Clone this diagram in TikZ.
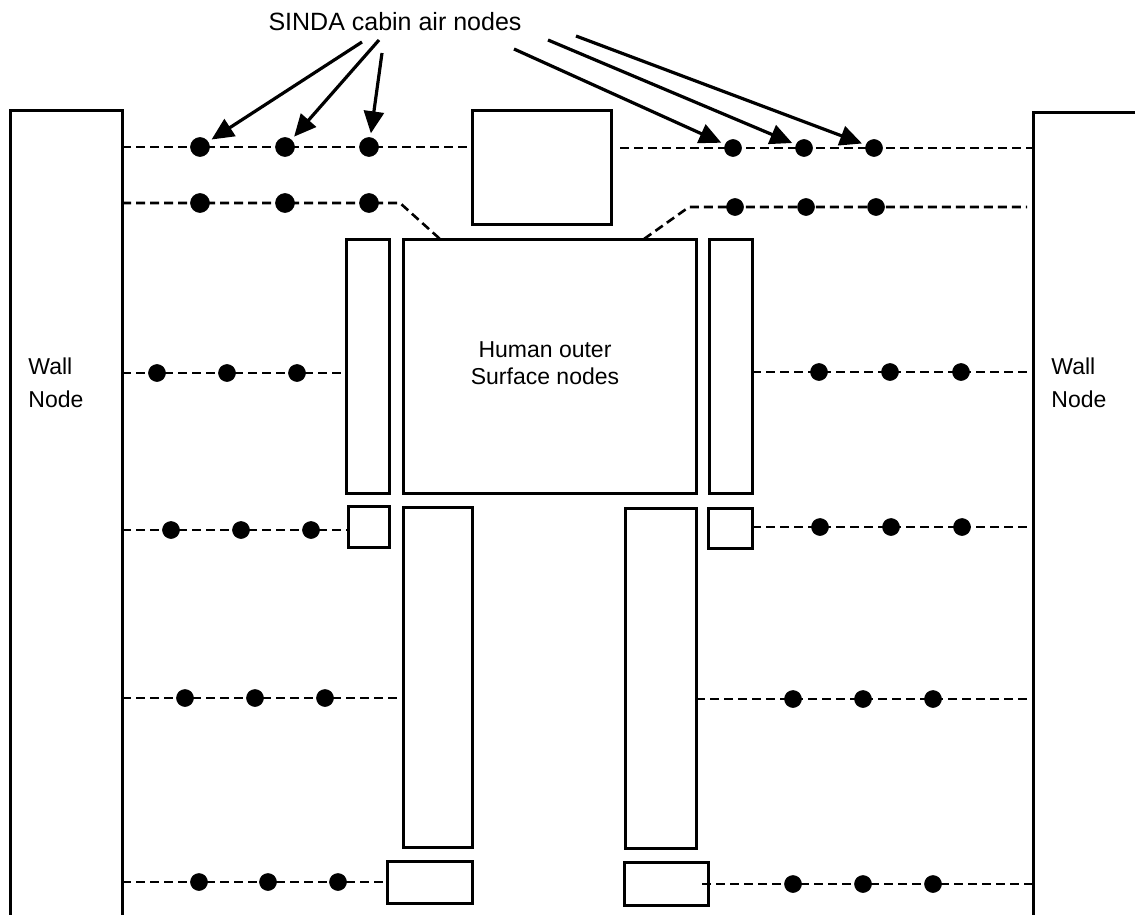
\documentclass[tikz,border=0pt]{standalone}
\usepackage{fontspec}
\setmainfont{Liberation Sans}
\usetikzlibrary{arrows.meta,fit,calc}

\begin{document}
\begin{tikzpicture}[
  x=0.5pt,y=-0.5pt,
  font=\fontsize{11.5}{13.5}\selectfont,
  >={Triangle[length=11pt,width=10pt]},
  partbox/.style ={draw,line width=1.5pt,inner sep=0pt,outer sep=0pt},
  airnode/.style ={circle,fill=black,draw=black,line width=0.3pt,inner sep=0pt,minimum size=8.5pt},
  bigair/.style  ={airnode,minimum size=9.5pt},
  airline/.style ={line width=1.3pt,dash pattern=on 4.5pt off 2.5pt},
  pointer/.style ={->,line width=1.6pt,shorten >=2pt},
  walltext/.style={align=left,inner sep=0pt,font=\fontsize{11.5}{16.5}\selectfont},
]
\useasboundingbox (0,0) rectangle (1135,915);

% =====================================================================
% WALLS (open towards the bottom / right edge of the page)
% =====================================================================
\node[partbox,fit={(10,111)(122,940)}]   (lwall) {};
\node[partbox,fit={(1033,113)(1160,940)}] (rwall) {};
\node[walltext,anchor=west] (lwalltxt) at (28,383)   {Wall\\Node};
\node[walltext,anchor=west] (rwalltxt) at (1051,383) {Wall\\Node};

% =====================================================================
% HUMAN BODY (outer surface nodes)
% =====================================================================
\node[partbox,fit={(472,111)(611,224)}] (head)  {};
\node[partbox,fit={(403,239)(696,493)}] (torso) {};
\node[partbox,fit={(346,239)(389,493)}] (larm)  {};
\node[partbox,fit={(709,239)(752,493)}] (rarm)  {};
\node[partbox,fit={(348,506)(389,547)}] (lhand) {};
\node[partbox,fit={(708,508)(752,548)}] (rhand) {};
\node[partbox,fit={(403,507)(472,847)}] (lleg)  {};
\node[partbox,fit={(625,508)(696,848)}] (rleg)  {};
\node[partbox,fit={(387,861)(472,903)}] (lfoot) {};
\node[partbox,fit={(624,862)(708,905)}] (rfoot) {};
\node[align=center] (bodytxt) at (545,363) {Human outer\\Surface nodes};

% =====================================================================
% CABIN AIR NODES
% =====================================================================
\foreach \nm/\y/\xa/\xb/\xc in {L1/147/200/285/369, L2/203/200/285/369}
  \foreach \x [count=\i] in {\xa,\xb,\xc}
    \node[bigair] (\nm\i) at (\x,\y) {};
\foreach \nm/\y/\xa/\xb/\xc in {L3/373/157/227/297, L4/530/171/241/311,
    L5/698/185/255/325, L6/882/199/268/338,
    R1/148/733/804/874, R2/207/735/806/876, R3/372/819/890/961,
    R4/527/820/891/962, R5/699/793/863/933, R6/884/793/863/933}
  \foreach \x [count=\i] in {\xa,\xb,\xc}
    \node[airnode] (\nm\i) at (\x,\y) {};

\coordinate (lbend) at (400,203);
\coordinate (lneck) at (440,239);
\coordinate (rbend) at (689,207);
\coordinate (rneck) at (644,239);

\draw[airline] (lwall.east |- L11) -- (head.west |- L11);
\draw[airline] (lwall.east |- L21) -- (lbend) -- (lneck);
\draw[airline] (lwall.east |- L31) -- (larm.west |- L31);
\draw[airline] (lwall.east |- L41) -- (lhand.west |- L41);
\draw[airline] (lwall.east |- L51) -- (lleg.west |- L51);
\draw[airline] (lwall.east |- L61) -- (lfoot.west |- L61);

\draw[airline] ($(head.east |- R11)+(9,0)$) -- (rwall.west |- R11);
\draw[airline] (rneck) -- (rbend) -- ($(rwall.west |- R21)+(-6,0)$);
\draw[airline] (rarm.east |- R31)  -- (rwall.west |- R31);
\draw[airline] (rhand.east |- R41) -- (rwall.west |- R41);
\draw[airline] (rleg.east |- R51)  -- (rwall.west |- R51);
\draw[airline] ($(rfoot.east |- R61)+(-6,0)$) -- (rwall.west |- R61);

% =====================================================================
% TITLE AND POINTERS
% =====================================================================
\node[font=\fontsize{12.5}{15}\selectfont] (title) at (395,22) {SINDA cabin air nodes};

\coordinate (sp1) at (362,42);
\coordinate (sp2) at (379,40);
\coordinate (sp3) at (382,53);
\coordinate (sp4) at (514,49);
\coordinate (sp5) at (548,40);
\coordinate (sp6) at (576,36);

\draw[pointer] (sp1) -- (L11);
\draw[pointer] (sp2) -- (L12);
\draw[pointer] (sp3) -- (L13);
\draw[pointer] (sp4) -- (R11);
\draw[pointer] (sp5) -- (R12);
\draw[pointer] (sp6) -- (R13);

\end{tikzpicture}
\end{document}
